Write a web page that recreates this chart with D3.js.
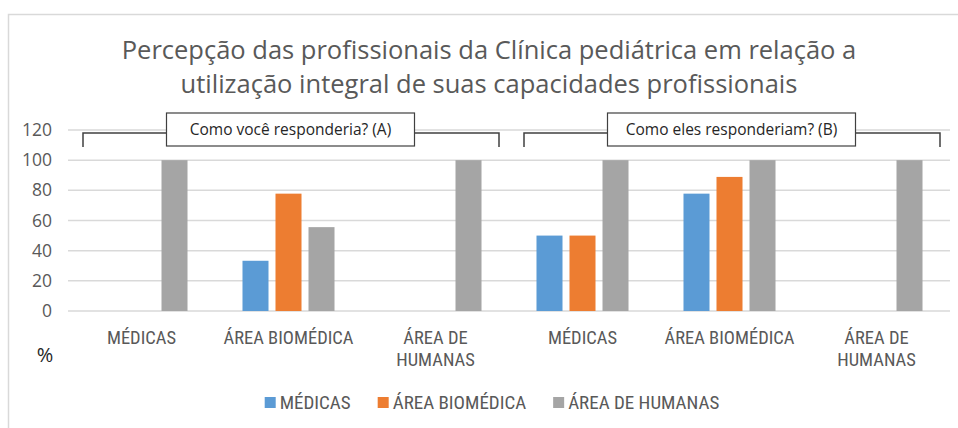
<!DOCTYPE html>
<html>
<head>
<meta charset="utf-8">
<script src="https://cdn.jsdelivr.net/npm/d3@7"></script>
<style>
  body { margin: 0; background: #fff; }
  svg { display: block; }
</style>
</head>
<body>
<div id="chart"></div>
<script>
// Data
const groups = ["Como você responderia? (A)", "Como eles responderiam? (B)"];
const categories = ["MÉDICAS", "ÁREA BIOMÉDICA", "ÁREA DE HUMANAS"];
const seriesNames = ["MÉDICAS", "ÁREA BIOMÉDICA", "ÁREA DE HUMANAS"];
const medicas = [0, 33.3, 0, 50, 77.8, 0];
const areaBiomedica = [0, 77.8, 0, 50, 88.9, 0];
const areaHumanas = [100, 55.6, 100, 100, 100, 100];
const yTicks = [0, 20, 40, 60, 80, 100, 120];
const titleLines = [
  "Percepção das profissionais da Clínica pediátrica em relação a",
  "utilização integral de suas capacidades profissionais"
];
const colors = ["#5b9bd5", "#ed7d31", "#a5a5a5"];

const W = 958, H = 428;
const plot = { left: 68, right: 950, top: 130, bottom: 311 };
const font = "'Open Sans', sans-serif";
const labelFont = "'Liberation Sans Narrow', 'Roboto Condensed', Roboto, sans-serif";

const svg = d3.select("#chart").append("svg")
  .attr("width", W)
  .attr("height", H);

// Chart frame (only top and left visible)
svg.append("path")
  .attr("d", `M8.5,${H} V14.5 H${W}`)
  .attr("fill", "none")
  .attr("stroke", "#d9d9d9")
  .attr("stroke-width", 1.5);

// Title
svg.append("text")
  .attr("x", 489)
  .attr("text-anchor", "middle")
  .attr("font-family", font)
  .attr("font-size", 25.5)
  .attr("fill", "#595959")
  .selectAll("tspan")
  .data(titleLines)
  .enter()
  .append("tspan")
  .attr("x", 489)
  .attr("y", (d, i) => 59 + i * 34)
  .text(d => d);

// Rows: one per (group, category)
const rows = [];
groups.forEach((g, gi) => {
  categories.forEach((c, ci) => {
    const i = gi * categories.length + ci;
    rows.push({ group: g, category: c, values: [medicas[i], areaBiomedica[i], areaHumanas[i]] });
  });
});

// Scales
const x = d3.scaleBand()
  .domain(d3.range(rows.length))
  .range([plot.left, plot.right]);

const xSub = d3.scaleBand()
  .domain(d3.range(seriesNames.length))
  .range([0, x.bandwidth()])
  .paddingInner(0.212)
  .paddingOuter(0.833);

const y = d3.scaleLinear()
  .domain([0, 120])
  .range([plot.bottom, plot.top]);

// Gridlines
svg.append("g")
  .selectAll("line")
  .data(yTicks)
  .enter()
  .append("line")
  .attr("x1", plot.left)
  .attr("x2", plot.right)
  .attr("y1", d => y(d))
  .attr("y2", d => y(d))
  .attr("stroke", "#d9d9d9")
  .attr("stroke-width", 1.5);

// Y axis labels
const yAxis = svg.append("g")
  .attr("transform", `translate(${plot.left - 16},0)`)
  .call(d3.axisLeft(y).tickValues(yTicks).tickSize(0).tickPadding(0));
yAxis.select(".domain").remove();
yAxis.selectAll("text")
  .attr("font-family", font)
  .attr("font-size", 17.5)
  .attr("fill", "#595959");

// Bars
const barGroups = svg.append("g")
  .selectAll("g")
  .data(rows)
  .enter()
  .append("g")
  .attr("transform", (d, i) => `translate(${x(i)},0)`);

barGroups.selectAll("rect")
  .data(d => d.values)
  .enter()
  .append("rect")
  .attr("x", (d, i) => xSub(i))
  .attr("width", xSub.bandwidth())
  .attr("y", d => y(d))
  .attr("height", d => y(0) - y(d))
  .attr("fill", (d, i) => colors[i]);

// Category labels (wrapped)
svg.append("g")
  .selectAll("text")
  .data(rows)
  .enter()
  .append("text")
  .attr("text-anchor", "middle")
  .attr("font-family", labelFont)
  .attr("font-size", 18.5)
  .attr("fill", "#595959")
  .each(function (d, i) {
    const lines = d.category === "ÁREA DE HUMANAS" ? ["ÁREA DE", "HUMANAS"] : [d.category];
    const cx = x(i) + x.bandwidth() / 2;
    d3.select(this).selectAll("tspan")
      .data(lines)
      .enter()
      .append("tspan")
      .attr("x", cx)
      .attr("y", (l, j) => 344 + j * 22)
      .text(l => l);
  });

// "%" axis title
svg.append("text")
  .attr("x", 45)
  .attr("y", 362)
  .attr("text-anchor", "middle")
  .attr("font-family", font)
  .attr("font-size", 20)
  .attr("fill", "#262626")
  .text("%");

// Group brackets with label boxes
groups.forEach((g, gi) => {
  const x0 = x(gi * 3) + 15;
  const x1 = x(gi * 3 + 2) + x.bandwidth() - 10;
  const cx = (x(gi * 3) + x(gi * 3 + 2) + x.bandwidth()) / 2 + 2;
  const bracket = svg.append("g");
  bracket.append("path")
    .attr("d", `M${x0},147 V133 H${x1} V147`)
    .attr("fill", "none")
    .attr("stroke", "#404040")
    .attr("stroke-width", 1.5);
  bracket.append("text")
    .attr("x", cx)
    .attr("y", 135)
    .attr("text-anchor", "middle")
    .attr("font-family", font)
    .attr("font-size", 15.5)
    .attr("fill", "#262626")
    .text(g);
  const bw = 248;
  bracket.insert("rect", "text")
    .attr("x", cx - bw / 2)
    .attr("y", 113)
    .attr("width", bw)
    .attr("height", 33)
    .attr("fill", "#fff")
    .attr("stroke", "#404040")
    .attr("stroke-width", 1.2);
});

// Legend
const legend = svg.append("g");
const items = legend.selectAll("g")
  .data(seriesNames)
  .enter()
  .append("g");
items.append("rect")
  .attr("width", 11)
  .attr("height", 11)
  .attr("y", 397)
  .attr("fill", (d, i) => colors[i]);
items.append("text")
  .attr("x", 15)
  .attr("y", 409)
  .attr("font-family", labelFont)
  .attr("font-size", 19)
  .attr("fill", "#595959")
  .text(d => d);

const widths = [];
items.each(function () {
  widths.push(this.querySelector("text").getComputedTextLength() + 15);
});
const gap = 27;
const total = d3.sum(widths) + gap * (widths.length - 1);
let offset = 492 - total / 2;
items.attr("transform", (d, i) => {
  const t = `translate(${offset},0)`;
  offset += widths[i] + gap;
  return t;
});
</script>
</body>
</html>
